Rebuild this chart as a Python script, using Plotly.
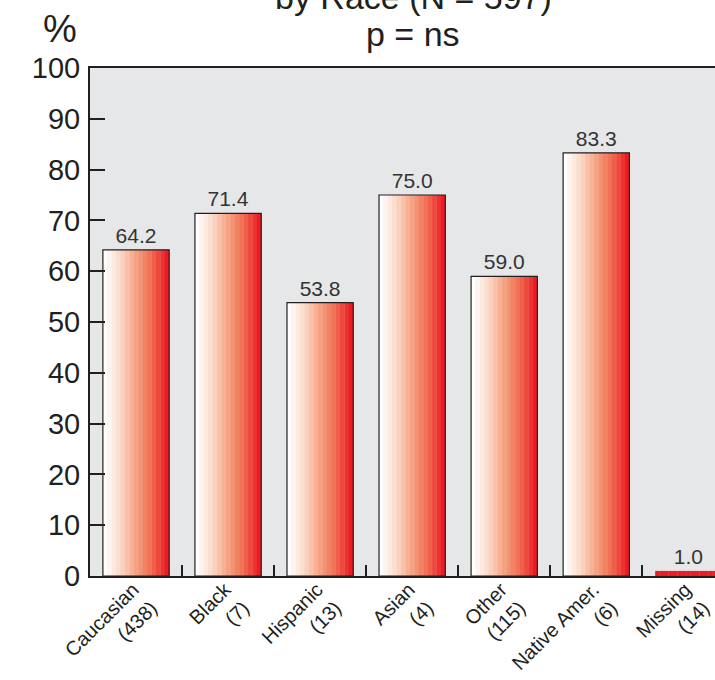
import plotly.graph_objects as go

# Response rate by race, with group sizes in the category labels
categories = [
    "Caucasian<br>(438)",
    "Black<br>(7)",
    "Hispanic<br>(13)",
    "Asian<br>(4)",
    "Other<br>(115)",
    "Native Amer.<br>(6)",
    "Missing<br>(14)",
]
percent = [64.2, 71.4, 53.8, 75.0, 59.0, 83.3, 1.0]
y_ticks = [0, 10, 20, 30, 40, 50, 60, 70, 80, 90, 100]
solid_red = [False, False, False, False, False, False, True]

FONT = "Liberation Sans, Arial, Helvetica, sans-serif"
INK = "#231F20"
RED = (237, 28, 36)
BAR_W = 0.72
N_STRIPES = 15

# white -> peach -> salmon -> red ramp used for the vertical stripes
ramp = [
    (0.00, (255, 255, 255)),
    (0.25, (252, 216, 198)),
    (0.50, (246, 162, 130)),
    (0.75, (240, 106, 80)),
    (1.00, RED),
]


def ramp_color(t):
    for (t0, c0), (t1, c1) in zip(ramp[:-1], ramp[1:]):
        if t <= t1:
            f = (t - t0) / (t1 - t0)
            r, g, b = (round(a + (b_ - a) * f) for a, b_ in zip(c0, c1))
            return f"rgb({r},{g},{b})"
    return "rgb(%d,%d,%d)" % RED


fig = go.Figure()

stripe_w = BAR_W / N_STRIPES
for i in range(N_STRIPES):
    shade = ramp_color(i / (N_STRIPES - 1))
    colors = ["rgb(%d,%d,%d)" % RED if s else shade for s in solid_red]
    fig.add_trace(go.Bar(
        x=categories,
        y=percent,
        width=stripe_w + 0.003,
        offset=-BAR_W / 2 + i * stripe_w,
        marker=dict(color=colors, line=dict(width=0)),
        hoverinfo="skip",
        showlegend=False,
    ))

# outline and value labels
fig.add_trace(go.Bar(
    x=categories,
    y=percent,
    width=BAR_W,
    marker=dict(
        color="rgba(0,0,0,0)",
        line=dict(color=INK, width=[0 if s else 1.2 for s in solid_red]),
    ),
    text=[f"{v:.1f}" for v in percent],
    textposition="outside",
    textfont=dict(family=FONT, size=21, color="#333333"),
    constraintext="none",
    cliponaxis=False,
    showlegend=False,
))

fig.update_layout(
    width=715,
    height=680,
    margin=dict(l=90, r=0, t=68, b=104),
    paper_bgcolor="white",
    plot_bgcolor="#E6E7E8",
    barmode="overlay",
    font=dict(family=FONT, color=INK),
    xaxis=dict(
        type="category",
        range=[-0.5, 6.29],
        automargin=False,
        tickson="boundaries",
        ticks="inside",
        ticklen=11,
        tickwidth=2,
        tickcolor=INK,
        showline=True,
        linewidth=2,
        linecolor=INK,
        mirror=True,
        showgrid=False,
        tickangle=-45,
        ticklabelstandoff=-8,
        ticklabelshift=-3,
        tickfont=dict(family=FONT, size=20, color=INK),
    ),
    yaxis=dict(
        range=[0, 100],
        automargin=False,
        tickvals=y_ticks,
        ticks="inside",
        ticklen=15,
        tickwidth=2,
        tickcolor=INK,
        showline=True,
        linewidth=2,
        linecolor=INK,
        showgrid=False,
        zeroline=False,
        ticklabelstandoff=2,
        tickfont=dict(family=FONT, size=29, color=INK),
    ),
    annotations=[
        dict(
            text="by Race (N = 597)",
            xref="paper", yref="paper",
            x=0.517, y=1,
            xanchor="center", yanchor="middle",
            yshift=71,
            showarrow=False,
            font=dict(family=FONT, size=34, color=INK),
        ),
        dict(
            text="p = ns",
            xref="paper", yref="paper",
            x=0.517, y=1,
            xanchor="center", yanchor="middle",
            yshift=34,
            showarrow=False,
            font=dict(family=FONT, size=34, color=INK),
        ),
        dict(
            text="%",
            xref="paper", yref="paper",
            x=0, y=1,
            xanchor="center", yanchor="middle",
            xshift=-30, yshift=39,
            showarrow=False,
            font=dict(family=FONT, size=38, color=INK),
        ),
    ],
)

fig.write_html("out.html")
